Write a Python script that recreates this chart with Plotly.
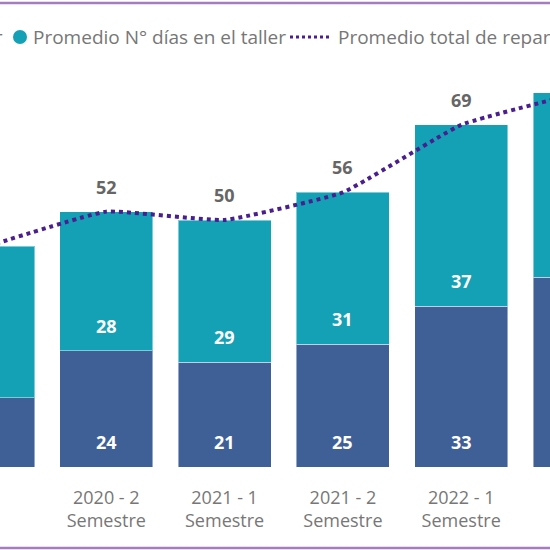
import plotly.graph_objects as go

# ---- data ----
categories = ["2020 - 1<br>Semestre", "2020 - 2<br>Semestre", "2021 - 1<br>Semestre",
              "2021 - 2<br>Semestre", "2022 - 1<br>Semestre", "2022 - 2<br>Semestre"]
dias_repuestos = [14.0, 23.6, 21.2, 24.9, 32.6, 38.5]
dias_taller = [30.8, 28.2, 28.9, 30.8, 36.8, 37.4]
total_reparacion = [44.8, 51.8, 50.1, 55.7, 69.4, 75.9]

legend_names = ["Promedio N° días por reparar", "Promedio N° días en el taller",
                "Promedio total de reparación"]

DARK = "#3F5F97"
TEAL = "#14A1B6"
PURPLE = "#4A1E8E"
FONT = "Open Sans"

W = H = 550
px_per_unit = 4.93
plot_bottom = 467

fig = go.Figure()
fig.add_bar(x=categories, y=dias_repuestos, name=legend_names[0], marker_color=DARK,
            marker_line=dict(color="rgba(255,255,255,0.45)", width=1), showlegend=False)
fig.add_bar(x=categories, y=dias_taller, name=legend_names[1], marker_color=TEAL,
            marker_line=dict(color="rgba(255,255,255,0.45)", width=1), showlegend=False)
fig.add_scatter(x=categories, y=total_reparacion, name=legend_names[2], mode="lines",
                line=dict(color=PURPLE, width=4, dash="4px,4px", shape="spline", smoothing=0.35),
                showlegend=False)

ann = []
# labels inside bars, near base of each segment
for c, d, t in zip(categories, dias_repuestos, dias_taller):
    ann.append(dict(x=c, y=0, text=f"<b>{d:.0f}</b>", showarrow=False, yshift=25,
                    font=dict(color="white", size=18, family=FONT)))
    ann.append(dict(x=c, y=d, text=f"<b>{t:.0f}</b>", showarrow=False, yshift=25,
                    font=dict(color="white", size=18, family=FONT)))
for c, v in zip(categories, total_reparacion):
    ann.append(dict(x=c, y=v, text=f"<b>{v:.0f}</b>", showarrow=False, yshift=25,
                    font=dict(color="#666666", size=18, family=FONT)))

# manual legend (cropped like the reference)
def py(p):
    return 1 - p / H

leg_y = py(37)
LEG_FONT = dict(color="#777777", size=19, family=FONT)
ann.append(dict(xref="paper", yref="paper", x=5 / W, y=leg_y, xanchor="right", yanchor="middle",
                text=legend_names[0], showarrow=False, font=LEG_FONT))
ann.append(dict(xref="paper", yref="paper", x=31 / W, y=leg_y, xanchor="left", yanchor="middle",
                text=legend_names[1], showarrow=False, font=LEG_FONT))
ann.append(dict(xref="paper", yref="paper", x=336 / W, y=leg_y, xanchor="left", yanchor="middle",
                text=legend_names[2], showarrow=False, font=LEG_FONT))

shapes = [
    dict(type="circle", xref="paper", yref="paper", x0=13 / W, x1=27 / W, y0=py(44), y1=py(30),
         fillcolor=TEAL, line=dict(width=0)),
    dict(type="line", xref="paper", yref="paper", x0=290 / W, x1=330 / W, y0=py(37), y1=py(37),
         line=dict(color=PURPLE, width=3, dash="3px,3px")),
    dict(type="line", xref="paper", yref="paper", x0=0, x1=1, y0=py(3), y1=py(3),
         line=dict(color="#A57CC0", width=2.5)),
    dict(type="line", xref="paper", yref="paper", x0=0, x1=1, y0=py(548), y1=py(548),
         line=dict(color="#A57CC0", width=2.5)),
]

fig.update_layout(
    width=W, height=H, barmode="stack", bargap=0.214,
    margin=dict(l=0, r=0, t=0, b=0),
    paper_bgcolor="white", plot_bgcolor="white",
    font=dict(family=FONT),
    xaxis=dict(range=[0.1014, 4.7506], showgrid=False, showline=False, zeroline=False,
               tickfont=dict(color="#777777", size=18, family=FONT), ticklabelstandoff=18),
    yaxis=dict(domain=[(H - plot_bottom) / H, 1], range=[0, plot_bottom / px_per_unit],
               visible=False),
    annotations=ann, shapes=shapes,
)

fig.write_html("out.html")
